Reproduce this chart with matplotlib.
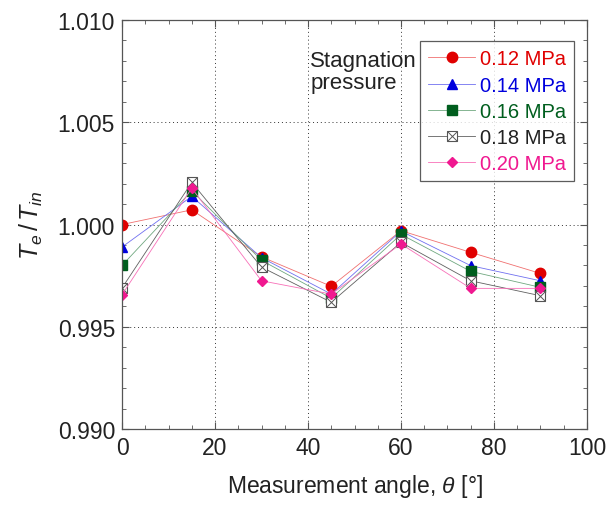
import matplotlib
matplotlib.use("Agg")
from matplotlib import pyplot as plt
from matplotlib.ticker import MultipleLocator

plt.rcParams['font.family'] = ['Liberation Sans', 'DejaVu Sans']
plt.rcParams['mathtext.fontset'] = 'custom'
plt.rcParams['mathtext.rm'] = 'Liberation Sans'
plt.rcParams['mathtext.it'] = 'Liberation Sans:italic'

angles = [0, 15, 30, 45, 60, 75, 90]
p012 = [1.0000, 1.00072, 0.99842, 0.99698, 0.99970, 0.99864, 0.99761]
p014 = [0.99890, 1.00138, 0.99838, 0.99660, 0.99968, 0.99799, 0.99725]
p016 = [0.99800, 1.00165, 0.99825, 0.99640, 0.99952, 0.99771, 0.99693]
p018 = [0.99690, 1.00206, 0.99792, 0.99620, 0.99913, 0.99725, 0.99652]
p020 = [0.99657, 1.00178, 0.99725, 0.99660, 0.99905, 0.99688, 0.99688]

labels = ['0.12 MPa', '0.14 MPa', '0.16 MPa', '0.18 MPa', '0.20 MPa']
colors = ['#e00000', '#0000dd', '#005e1e', '#222222', '#f01890']
line_colors = ['#f07070', '#7070f0', '#70a880', '#606060', '#f870b8']


def main():
    fig = plt.figure(figsize=(6.11, 5.06), dpi=100)
    ax = fig.add_axes([0.1997, 0.150, 0.761, 0.8085])

    h1, = ax.plot(angles, p012, '-o', color=line_colors[0], mfc=colors[0],
                  mec=colors[0], ms=7.5, lw=0.6)
    h2, = ax.plot(angles, p014, '-^', color=line_colors[1], mfc=colors[1],
                  mec=colors[1], ms=7, lw=0.6)
    h3, = ax.plot(angles, p016, '-s', color=line_colors[2], mfc=colors[2],
                  mec=colors[2], ms=6.5, lw=0.6)
    h4, = ax.plot(angles, p018, '-s', color=line_colors[3], mfc='white',
                  mec='#555555', ms=7.5, lw=0.6, mew=0.8)
    h4x, = ax.plot(angles, p018, 'x', color='#555555', ms=6.5, mew=0.7)
    h5, = ax.plot(angles, p020, '-D', color=line_colors[4], mfc=colors[4],
                  mec=colors[4], ms=5.5, lw=0.6)

    ax.set_xlim(0, 100)
    ax.set_ylim(0.990, 1.010)
    ax.xaxis.set_major_locator(MultipleLocator(20))
    ax.xaxis.set_minor_locator(MultipleLocator(5))
    ax.yaxis.set_major_locator(MultipleLocator(0.005))
    ax.yaxis.set_minor_locator(MultipleLocator(0.001))
    ax.yaxis.set_major_formatter(matplotlib.ticker.FormatStrFormatter('%.3f'))
    ax.tick_params(which='both', direction='in', top=True, right=True,
                   labelsize=16.5, color='#555555', labelcolor='#222222')
    ax.tick_params(which='major', length=5, pad=5)
    ax.tick_params(which='minor', length=3)
    for s in ax.spines.values():
        s.set_color('#555555')
        s.set_linewidth(0.9)
    ax.grid(True, which='major', linestyle=(0, (1, 3)), color='#333333',
            lw=0.7)

    ax.set_xlabel(r'Measurement angle, $\theta$ [°]', fontsize=16.5,
                  labelpad=9, color='#222222')
    ax.set_ylabel(r'$T_e\,/\,T_{in}$', fontsize=18, labelpad=9,
                  color='#222222')

    leg = ax.legend([h1, h2, h3, (h4, h4x), h5], labels, loc='upper right',
                    bbox_to_anchor=(0.972, 0.948), fontsize=14.5,
                    frameon=True, fancybox=False, edgecolor='#333333',
                    handlelength=2.3, handletextpad=0.25, labelspacing=0.36,
                    borderpad=0.4, borderaxespad=0)
    leg.get_frame().set_linewidth(0.9)
    for t, c in zip(leg.get_texts(), colors):
        t.set_color(c)

    ax.text(0.405, 0.926, 'Stagnation\npressure', transform=ax.transAxes,
            fontsize=16, va='top', ha='left', linespacing=1.05,
            color='#222222')

    fig.savefig('out.png', dpi=100)


if __name__ == "__main__":
    main()
